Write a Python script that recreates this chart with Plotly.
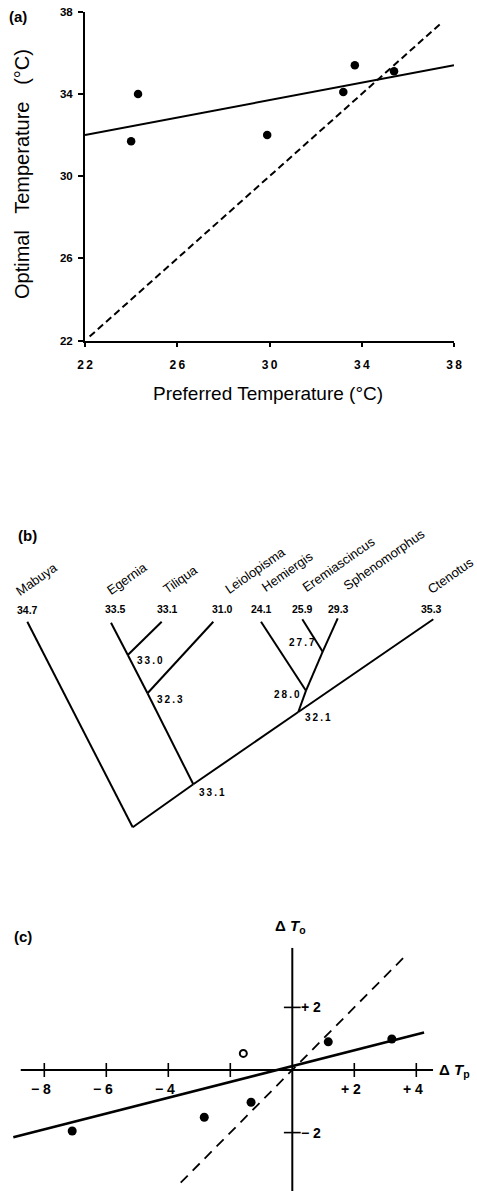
import plotly.graph_objects as go
import plotly.io as pio

pio.templates.default = "none"

FONT = "Liberation Sans, Arial, Helvetica, sans-serif"
W, H = 477, 1191

# ---------------- Panel (a) data ----------------
pref_temp = [24.0, 24.3, 29.9, 33.2, 33.7, 35.4]
opt_temp = [31.7, 34.0, 32.0, 34.1, 35.4, 35.1]
fit_x = [22.0, 38.0]
fit_y = [32.0, 35.4]
equal_x = [22.2, 37.5]
equal_y = [22.2, 37.5]
a_ticks = [22, 26, 30, 34, 38]

# ---------------- Panel (b) data (cladogram) ----------------
species = ["Mabuya", "Egernia", "Tiliqua", "Leiolopisma", "Hemiergis",
           "Eremiascincus", "Sphenomorphus", "Ctenotus"]
tip_values = ["34.7", "33.5", "33.1", "31.0", "24.1", "25.9", "29.3", "35.3"]
tip_x = [27.3, 111.0, 161.7, 213.3, 261.0, 302.3, 337.7, 433.3]
tip_y = [621.7, 622.7, 621.7, 621.7, 621.7, 619.3, 618.3, 619.3]

node_names = ["n330", "n323", "n331", "n277", "n280", "n321", "root"]
node_values = ["33.0", "32.3", "33.1", "27.7", "28.0", "32.1", ""]
node_x = [127.8, 147.5, 193.3, 322.7, 306.0, 298.3, 132.7]
node_y = [655.0, 693.3, 784.3, 651.7, 690.7, 712.0, 827.3]

edges = [("Mabuya", "root"), ("Egernia", "n330"), ("n330", "n323"),
         ("n323", "n331"), ("Tiliqua", "n330"), ("Leiolopisma", "n323"),
         ("n331", "root"), ("Ctenotus", "n321"), ("n321", "n331"),
         ("Hemiergis", "n280"), ("n280", "n321"), ("Eremiascincus", "n277"),
         ("Sphenomorphus", "n277"), ("n277", "n280")]

# ---------------- Panel (c) data ----------------
dTp_filled = [-7.1, -2.84, -1.33, 1.16, 3.21]
dTo_filled = [-1.95, -1.51, -1.03, 0.90, 0.99]
dTp_open = [-1.58]
dTo_open = [0.53]
c_fit_x = [-9.0, 4.25]
c_fit_y = [-2.15, 1.20]
c_eq_x = [-3.6, 3.6]
c_eq_y = [-3.6, 3.6]
c_xticks = [-8, -6, -4, -2, 2, 4]
c_xlabels = {-8: "\u2212 8", -6: "\u2212 6", -4: "\u2212 4", 2: "+ 2", 4: "+ 4"}
c_yticks = [2, -2]
c_ylabels = {2: "+ 2", -2: "\u2212 2"}
c_xaxis_span = [-8.76, 4.54]
c_yaxis_span = [-3.9, 3.9]

fig = go.Figure()

# ---- (a)
fig.add_trace(go.Scatter(x=equal_x, y=equal_y, mode="lines",
                         line=dict(color="black", width=2, dash="7px,4px"),
                         xaxis="x", yaxis="y"))
fig.add_trace(go.Scatter(x=fit_x, y=fit_y, mode="lines",
                         line=dict(color="black", width=2),
                         xaxis="x", yaxis="y"))
fig.add_trace(go.Scatter(x=pref_temp, y=opt_temp, mode="markers",
                         marker=dict(color="black", size=8.5),
                         xaxis="x", yaxis="y", cliponaxis=False))

# ---- (b)
pos = {n: (x, y) for n, x, y in zip(species, tip_x, tip_y)}
pos.update({n: (x, y) for n, x, y in zip(node_names, node_x, node_y)})
ex, ey = [], []
for a, b in edges:
    ex += [pos[a][0], pos[b][0], None]
    ey += [pos[a][1], pos[b][1], None]
fig.add_trace(go.Scatter(x=ex, y=ey, mode="lines",
                         line=dict(color="black", width=2),
                         xaxis="x2", yaxis="y2"))

# ---- (c)
fig.add_trace(go.Scatter(x=c_xaxis_span, y=[0, 0], mode="lines",
                         line=dict(color="black", width=2),
                         xaxis="x3", yaxis="y3"))
fig.add_trace(go.Scatter(x=[0, 0], y=c_yaxis_span, mode="lines",
                         line=dict(color="black", width=2),
                         xaxis="x3", yaxis="y3"))
fig.add_trace(go.Scatter(x=c_xticks, y=[0] * len(c_xticks), mode="markers",
                         marker=dict(symbol="line-ns", size=10,
                                     line=dict(color="black", width=1.6)),
                         xaxis="x3", yaxis="y3"))
fig.add_trace(go.Scatter(x=[0] * len(c_yticks), y=c_yticks, mode="markers",
                         marker=dict(symbol="line-ew", size=12,
                                     line=dict(color="black", width=1.6)),
                         xaxis="x3", yaxis="y3"))
fig.add_trace(go.Scatter(x=c_eq_x, y=c_eq_y, mode="lines",
                         line=dict(color="black", width=1.8, dash="10px,7px"),
                         xaxis="x3", yaxis="y3"))
fig.add_trace(go.Scatter(x=c_fit_x, y=c_fit_y, mode="lines",
                         line=dict(color="black", width=2.6),
                         xaxis="x3", yaxis="y3"))
fig.add_trace(go.Scatter(x=dTp_filled, y=dTo_filled, mode="markers",
                         marker=dict(color="black", size=9),
                         xaxis="x3", yaxis="y3"))
fig.add_trace(go.Scatter(x=dTp_open, y=dTo_open, mode="markers",
                         marker=dict(symbol="circle-open", color="black", size=7,
                                     line=dict(width=2)),
                         xaxis="x3", yaxis="y3"))

ann = []
for txt, px, py in [("(a)", 18, 17), ("(b)", 27, 535), ("(c)", 23, 936)]:
    ann.append(dict(text="<b>%s</b>" % txt, x=px / W, y=1 - py / H, xref="paper", yref="paper",
                    showarrow=False, font=dict(size=15, family=FONT, color="black"),
                    xanchor="center", yanchor="middle"))
ann.append(dict(text="Preferred Temperature (°C)", x=268 / W, y=1 - 393 / H,
                xref="paper", yref="paper", showarrow=False,
                font=dict(size=19, family=FONT, color="black"),
                xanchor="center", yanchor="middle"))
ann.append(dict(text="Optimal   Temperature   (°C)", x=22 / W, y=1 - 174 / H,
                xref="paper", yref="paper", showarrow=False, textangle=-90,
                font=dict(size=20, family=FONT, color="black"),
                xanchor="center", yanchor="middle"))

name_centers = [(36, 579), (127, 578), (180, 579), (255, 570), (287.5, 571.7),
                (338.3, 564), (384, 559), (450.5, 575)]
for name, (cx, cy) in zip(species, name_centers):
    ann.append(dict(text=name, x=cx, y=cy, xref="x2", yref="y2", showarrow=False,
                    textangle=-35, font=dict(size=13, family=FONT, color="black"),
                    xanchor="center", yanchor="middle"))
value_centers = [(27, 609.5), (115, 609.3), (167, 609.3), (222.7, 609.3),
                 (261, 609.3), (302, 609), (338, 608.7), (431, 608.7)]
for val, (cx, cy) in zip(tip_values, value_centers):
    ann.append(dict(text="<b>%s</b>" % val, x=cx, y=cy, xref="x2", yref="y2",
                    showarrow=False, font=dict(size=10.5, family=FONT, color="black"),
                    xanchor="center", yanchor="middle"))
node_label_centers = [(150, 660), (170, 699), (212.3, 792.7), (301.7, 642.7),
                      (287.3, 694.3), (318.3, 717.7)]
for val, (cx, cy) in zip(node_values, node_label_centers):
    ann.append(dict(text="<b>%s</b>" % "\u2009".join(val), x=cx, y=cy, xref="x2", yref="y2",
                    showarrow=False, font=dict(size=10, family=FONT, color="black"),
                    xanchor="center", yanchor="middle"))

for v, t in c_xlabels.items():
    ann.append(dict(text="<b>%s</b>" % t, x=v, y=0, xref="x3", yref="y3",
                    showarrow=False, xshift=-3, yshift=-19,
                    font=dict(size=14, family=FONT, color="black"),
                    xanchor="center", yanchor="middle"))
for v, t in c_ylabels.items():
    ann.append(dict(text="<b>%s</b>" % t, x=0, y=v, xref="x3", yref="y3",
                    showarrow=False, xshift=7,
                    font=dict(size=14, family=FONT, color="black"),
                    xanchor="left", yanchor="middle"))
ann.append(dict(text="<b>\u0394 <i>T</i><sub>o</sub></b>", x=0, y=c_yaxis_span[1],
                xref="x3", yref="y3", showarrow=False, yshift=10, xshift=-2,
                font=dict(size=15, family=FONT, color="black"),
                xanchor="center", yanchor="bottom"))
ann.append(dict(text="<b>\u0394 <i>T</i><sub>p</sub></b>", x=c_xaxis_span[1], y=0,
                xref="x3", yref="y3", showarrow=False, xshift=4,
                font=dict(size=15, family=FONT, color="black"),
                xanchor="left", yanchor="middle"))

fig.update_layout(
    width=W, height=H, margin=dict(l=0, r=0, t=0, b=0, pad=0), autosize=False,
    paper_bgcolor="white", plot_bgcolor="rgba(0,0,0,0)", showlegend=False,
    font=dict(family=FONT, color="black"),
    xaxis=dict(domain=[85 / W, 454 / W], range=[22, 38], anchor="y", automargin=False,
               showline=True, linecolor="black", linewidth=2, mirror=False,
               ticks="outside", ticklen=4, tickwidth=1.5, tickcolor="black",
               tickvals=a_ticks, ticktext=["<b>%s</b>" % "\u2009".join(str(t)) for t in a_ticks],
               tickfont=dict(size=12, family=FONT, color="black"),
               ticklabelstandoff=8, showgrid=False, zeroline=False),
    yaxis=dict(domain=[1 - 340.7 / H, 1 - 11.7 / H], range=[22, 38], anchor="x", automargin=False,
               showline=True, linecolor="black", linewidth=2,
               ticks="outside", ticklen=5, tickwidth=1.5, tickcolor="black",
               tickvals=a_ticks, ticktext=["<b>%s</b>" % t for t in a_ticks],
               tickfont=dict(size=11.5, family=FONT, color="black"),
               ticklabelstandoff=3, showgrid=False, zeroline=False),
    xaxis2=dict(domain=[0, 1], range=[0, W], anchor="y2", visible=False, automargin=False),
    yaxis2=dict(domain=[1 - 850 / H, 1 - 500 / H], range=[850, 500], anchor="x2",
                visible=False, automargin=False),
    xaxis3=dict(domain=[0, 1], range=[-292.3 / 31, (W - 292.3) / 31], anchor="y3",
                visible=False, automargin=False),
    yaxis3=dict(domain=[0, 1 - 900 / H], range=[-(H - 1070) / 31.3, (1070 - 900) / 31.3],
                anchor="x3", visible=False, automargin=False),
    annotations=ann,
)

fig.write_html("out.html", config={"displayModeBar": False},
               post_script="document.body.style.margin='0';"
                           "document.body.style.overflow='hidden';")
